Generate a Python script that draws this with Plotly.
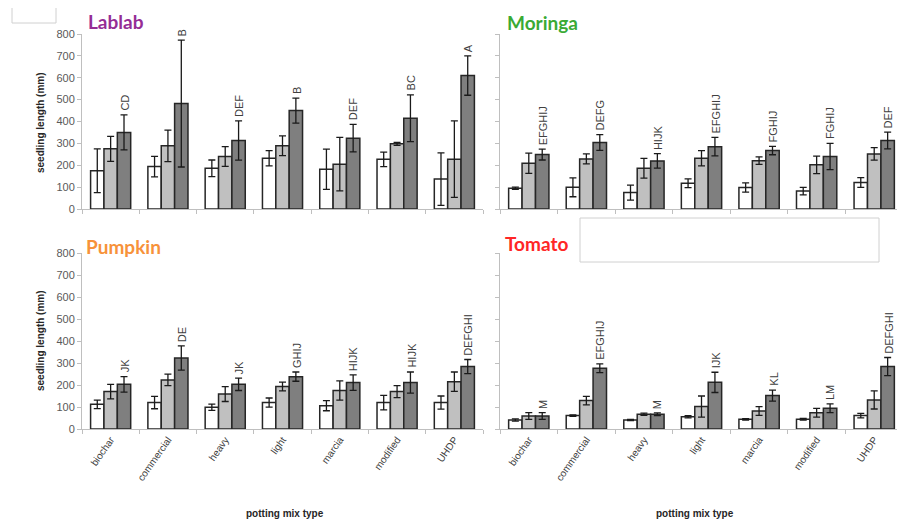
import plotly.graph_objects as go

categories = ["biochar", "commercial", "heavy", "light", "marcia", "modified", "UHDP"]
y_ticks = [0, 100, 200, 300, 400, 500, 600, 700, 800]

# Lablab
lablab_white = [175, 194, 186, 232, 182, 227, 137]
lablab_white_err = [100, 47, 38, 35, 92, 33, 120]
lablab_light = [275, 289, 240, 289, 205, 298, 228]
lablab_light_err = [57, 72, 45, 45, 122, 7, 175]
lablab_dark = [350, 482, 313, 450, 324, 415, 610]
lablab_dark_err = [80, 290, 90, 57, 63, 107, 90]
lablab_labels = ["CD", "B", "DEF", "B", "DEF", "BC", "A"]

# Moringa
moringa_white = [95, 99, 75, 118, 98, 82, 121]
moringa_white_err = [5, 43, 34, 20, 21, 17, 22]
moringa_light = [209, 229, 186, 232, 221, 202, 252]
moringa_light_err = [46, 23, 45, 35, 17, 40, 29]
moringa_dark = [249, 304, 220, 285, 267, 240, 313]
moringa_dark_err = [25, 36, 33, 42, 19, 60, 38]
moringa_labels = ["EFGHIJ", "DEFG", "HIJK", "EFGHIJ", "FGHIJ", "FGHIJ", "DEF"]

# Pumpkin
pumpkin_white = [112, 120, 99, 120, 106, 120, 120]
pumpkin_white_err = [19, 28, 14, 21, 23, 33, 30]
pumpkin_light = [170, 223, 159, 193, 175, 170, 215]
pumpkin_light_err = [33, 26, 34, 20, 44, 27, 44]
pumpkin_dark = [203, 323, 203, 238, 211, 211, 284]
pumpkin_dark_err = [35, 55, 28, 21, 35, 48, 32]
pumpkin_labels = ["JK", "DE", "JK", "GHIJ", "HIJK", "HIJK", "DEFGHI"]

# Tomato
tomato_white = [41, 61, 41, 56, 44, 44, 61]
tomato_white_err = [5, 3, 3, 5, 3, 4, 10]
tomato_light = [59, 129, 67, 102, 82, 74, 132]
tomato_light_err = [15, 19, 5, 48, 20, 20, 41]
tomato_dark = [59, 276, 67, 212, 152, 94, 284]
tomato_dark_err = [15, 20, 6, 46, 25, 20, 41]
tomato_labels = ["M", "EFGHIJ", "M", "IJK", "KL", "LM", "DEFGHI"]

# page body margin offsets the figure by 8px; compensate
OFF = 8
W, H = 905 - OFF, 523 - OFF


def px(x):
    return (x - OFF) / W


def py(y):
    return 1 - (y - OFF) / H


panels = [
    dict(name="Lablab", color="#952D95", data=(lablab_white, lablab_white_err, lablab_light, lablab_light_err, lablab_dark, lablab_dark_err), labels=lablab_labels,
         xd=(82, 483), yd=(34, 209), title_xy=(86, 21), left=True, bottom=False),
    dict(name="Moringa", color="#3AAA35", data=(moringa_white, moringa_white_err, moringa_light, moringa_light_err, moringa_dark, moringa_dark_err), labels=moringa_labels,
         xd=(500, 903), yd=(34, 209), title_xy=(505, 23), left=False, bottom=False),
    dict(name="Pumpkin", color="#F7923A", data=(pumpkin_white, pumpkin_white_err, pumpkin_light, pumpkin_light_err, pumpkin_dark, pumpkin_dark_err), labels=pumpkin_labels,
         xd=(82, 483), yd=(253, 429), title_xy=(84, 246), left=True, bottom=True),
    dict(name="Tomato", color="#FF2626", data=(tomato_white, tomato_white_err, tomato_light, tomato_light_err, tomato_dark, tomato_dark_err), labels=tomato_labels,
         xd=(500, 903), yd=(253, 429), title_xy=(503, 243), left=False, bottom=True),
]

fills = ["#FFFFFF", "#C0C0C0", "#7F7F7F"]
fig = go.Figure()
annotations = []
layout = {}

for i, p in enumerate(panels):
    n = i + 1
    xa = "x" if n == 1 else f"x{n}"
    ya = "y" if n == 1 else f"y{n}"
    d = p["data"]
    for k in range(3):
        fig.add_trace(go.Bar(
            x=categories, y=d[2 * k], xaxis=xa, yaxis=ya,
            marker=dict(color=fills[k], line=dict(color="#262626", width=1.5)),
            error_y=dict(type="data", array=d[2 * k + 1], color="#1a1a1a", thickness=1.3, width=3.5),
            showlegend=False, offsetgroup=str(k),
        ))
    for c, m, e, lab in zip(categories, d[4], d[5], p["labels"]):
        annotations.append(dict(
            x=c, y=m + e, xref=xa, yref=ya, text=lab, showarrow=False,
            textangle=-90, xanchor="center", yanchor="bottom", xshift=14, yshift=2,
            font=dict(family="Liberation Sans", size=11, color="#404040"),
        ))
    x0, x1 = p["xd"]
    y0, y1 = p["yd"]
    xkey = "xaxis" if n == 1 else f"xaxis{n}"
    ykey = "yaxis" if n == 1 else f"yaxis{n}"
    layout[xkey] = dict(
        domain=[px(x0), min(px(x1), 1.0)], anchor=ya, range=[-0.5, 6.5],
        showline=True, linecolor="#BFBFBF", linewidth=1, ticks="outside", ticklen=4,
        tickcolor="#BFBFBF", tickson="boundaries", showgrid=False,
        showticklabels=p["bottom"], tickangle=-55,
        tickfont=dict(family="Liberation Sans", size=10, color="#404040"),
    )
    layout[ykey] = dict(
        domain=[py(y1), py(y0)], anchor=xa, range=[0, 800],
        tickvals=y_ticks, showline=True, linecolor="#BFBFBF", linewidth=1,
        ticks="outside", ticklen=4, tickcolor="#BFBFBF", showgrid=False, zeroline=False,
        showticklabels=p["left"],
        tickfont=dict(family="Liberation Sans", size=11, color="#595959"),
    )
    tx, ty = p["title_xy"]
    annotations.append(dict(
        x=px(tx), y=py(ty), xref="paper", yref="paper", text=f"<b>{p['name']}</b>",
        showarrow=False, xanchor="left", yanchor="middle",
        font=dict(family="Lato", size=19, color=p["color"]),
    ))

for yc in (123, 341):
    annotations.append(dict(
        x=px(40), y=py(yc), xref="paper", yref="paper", text="<b>seedling length (mm)</b>",
        showarrow=False, textangle=-90, xanchor="center", yanchor="middle",
        font=dict(family="Liberation Sans", size=10, color="#262626"),
    ))
for xc in (285, 695):
    annotations.append(dict(
        x=px(xc), y=py(513), xref="paper", yref="paper", text="<b>potting mix type</b>",
        showarrow=False, xanchor="center", yanchor="middle",
        font=dict(family="Liberation Sans", size=10, color="#262626"),
    ))

shapes = [
    dict(type="rect", xref="paper", yref="paper", x0=px(12), x1=px(56), y0=py(23), y1=1.05,
         line=dict(color="#D0D0D0", width=1), fillcolor="rgba(0,0,0,0)"),
    dict(type="rect", xref="paper", yref="paper", x0=px(580), x1=px(879), y0=py(262), y1=py(218),
         line=dict(color="#D0D0D0", width=1), fillcolor="#FFFFFF", layer="above"),
]

fig.update_layout(
    width=W, height=H, margin=dict(l=0, r=0, t=0, b=0, autoexpand=False),
    paper_bgcolor="white", plot_bgcolor="white", barmode="group",
    bargap=0.3, bargroupgap=0.0, annotations=annotations, shapes=shapes, **layout,
)
fig.write_html("out.html")
